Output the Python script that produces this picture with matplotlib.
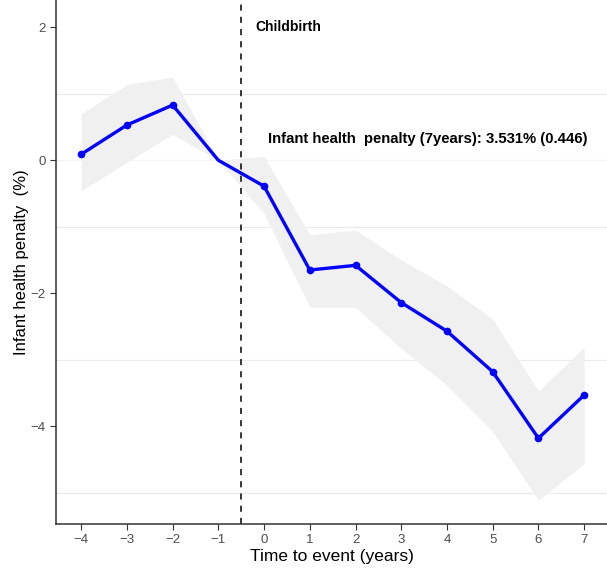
import matplotlib
matplotlib.use("Agg")
import matplotlib.pyplot as plt

plt.rcParams['font.family'] = ['Liberation Sans', 'DejaVu Sans']

# event-study estimates around childbirth (year -1 is the reference year)
years = [-4, -3, -2, -1, 0, 1, 2, 3, 4, 5, 6, 7]
estimate = [0.09, 0.53, 0.83, 0.0, -0.39, -1.65, -1.58, -2.14, -2.57, -3.18, -4.18, -3.531]
ci_upper = [0.70, 1.14, 1.25, 0.0, 0.06, -1.12, -1.05, -1.50, -1.89, -2.39, -3.47, -2.81]
ci_lower = [-0.46, -0.03, 0.39, 0.0, -0.80, -2.21, -2.21, -2.83, -3.38, -4.08, -5.11, -4.56]
grid_levels = [1, -1, -3, -5]
y_ticks = [2, 0, -2, -4]
ref_year = -1

fig = plt.figure(figsize=(6.07, 5.69), dpi=100)
ax = fig.add_axes([0.0923, 0.079, 0.9077, 0.921])

for g in grid_levels:
    ax.axhline(g, color='#ebebeb', lw=0.9, zorder=0)
ax.axhline(0, color='#f4f4f4', lw=0.8, zorder=0)

ax.fill_between(years, ci_lower, ci_upper, color='#f0f0f0', lw=0, zorder=1)
marks = [i for i, y in enumerate(years) if y != ref_year]
ax.plot(years, estimate, color='blue', lw=2.4, marker='o', markersize=4.5,
        markevery=marks, zorder=3)
ax.axvline(-0.5, color='black', lw=1.1, ls=(0, (4, 4)), zorder=2)

ax.text(-0.2, 2.0, 'Childbirth', fontsize=10, fontweight='bold', va='center', ha='left')
ax.text(0.09, 0.32, 'Infant health  penalty (7years): 3.531% (0.446)',
        fontsize=10.7, fontweight='bold', va='center', ha='left')

ax.set_xlim(-4.55, 7.5)
ax.set_ylim(-5.47, 2.41)
ax.set_xticks(years)
ax.set_xticklabels([str(y).replace('-', '\u2212') for y in years])
ax.set_yticks(y_ticks)
ax.set_yticklabels([str(y).replace('-', '\u2212') for y in y_ticks])
ax.tick_params(colors='#4d4d4d', labelsize=9.5, length=4, width=0.8)
ax.tick_params(axis='both', color='#333333')

for side in ['top', 'right']:
    ax.spines[side].set_visible(False)
for side in ['left', 'bottom']:
    ax.spines[side].set_linewidth(1.1)
    ax.spines[side].set_color('#333333')

ax.set_xlabel('Time to event (years)', fontsize=12.5, labelpad=2)
ax.set_ylabel('Infant health penalty  (%)', fontsize=12, labelpad=1)

fig.savefig('out.png', dpi=100)
